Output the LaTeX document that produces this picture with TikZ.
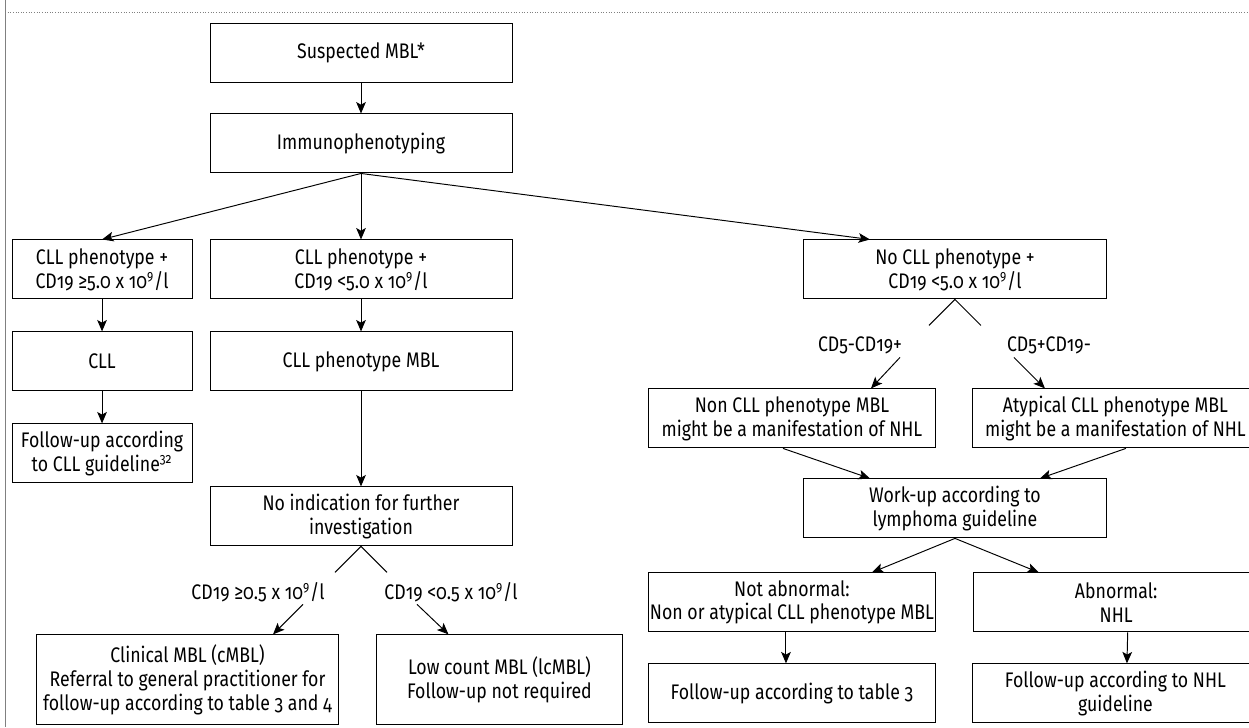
\documentclass[tikz,border=0pt]{standalone}
\usepackage{fontspec}
\setmainfont{Fira Sans}[Numbers=OldStyle, FakeStretch=0.84]
\usepackage{xcolor}
\usepackage{tikz}
\usetikzlibrary{positioning, arrows.meta}

\begin{document}
\begin{tikzpicture}[node distance = 0.64cm, >={Stealth[length=6.5pt, width=5.5pt, inset=1.5pt]},
        font=\fontsize{12}{13.6}\selectfont, line width=0.55pt]
            \tikzstyle{box} = [draw=black, rectangle, align=center, inner sep=1pt, minimum height=1.18cm, minimum width=6.04cm]
            \tikzstyle{narrow} = [box, minimum width=3.6cm]
            \tikzstyle{side} = [box, minimum width=5.72cm]
            \tikzstyle{cut} = [box, minimum width=5.7cm]
            \tikzstyle{lbl} = [inner sep=1pt, align=center]

            \useasboundingbox (0, 0) rectangle (24.98, -14.54);
            \clip (0, 0) rectangle (24.98, -14.54);
            \draw [gray, line width=0.5pt] (0.1, 0) -- (0.1, -14.54);
            \draw [gray, densely dotted, line width=0.5pt] (0.1, -0.24) -- (24.98, -0.24);

            \node [box] (B0) at (7.22, -1.05) {Suspected MBL*};
            \node [box, below = 0.62cm of B0] (B1) {Immunophenotyping};

            \node [box, below = 1.32cm of B1] (B3) {CLL phenotype +\\CD19 <5.0 x 10\textsuperscript{9}/l};
            \node [narrow, left = 0.34cm of B3] (B2) {CLL phenotype +\\CD19 ≥5.0 x 10\textsuperscript{9}/l};
            \node [box, right = 5.82cm of B3] (B4) {No CLL phenotype +\\CD19 <5.0 x 10\textsuperscript{9}/l};

            \node [narrow, below = of B2] (B5) {CLL};
            \node [box, below = of B3] (B6) {CLL phenotype MBL};
            \node [narrow, below = of B5] (B7) {Follow-up according\\to CLL guideline\textsuperscript{32}};

            \node [box, below = 1.9cm of B6] (B8) {No indication for further\\investigation};
            \node [box, minimum height=1.8cm, below = 1.76cm of B8, xshift=-3.47cm] (B9) {Clinical MBL (cMBL)\\Referral to general practitioner for\\follow-up according to table 3 and 4};
            \node [box, minimum height=1.8cm, minimum width=4.92cm, right = 0.74cm of B9] (B10) {Low count MBL (lcMBL)\\Follow-up not required};

            \node [side, below = 1.78cm of B4, xshift=-3.26cm] (B11) {Non CLL phenotype MBL\\might be a manifestation of NHL};
            \node [cut, right = 0.74cm of B11] (B12) {Atypical CLL phenotype MBL\\might be a manifestation of NHL};
            \node [box, below = 3.58cm of B4] (B13) {Work-up according to\\lymphoma guideline};
            \node [side, below = 2.48cm of B11] (B14) {Not abnormal:\\Non or atypical CLL phenotype MBL};
            \node [cut, right = 0.74cm of B14] (B15) {Abnormal:\\NHL};
            \node [side, below = 0.62cm of B14] (B16) {Follow-up according to table 3};
            \node [cut, right = 0.74cm of B16] (B17) {Follow-up according to NHL\\guideline};

            % branch labels
            \node [lbl] (L0) at ([xshift=-1.9cm, yshift=-0.92cm]B4.south) {CD5-CD19+};
            \node [lbl] (L1) at ([xshift=1.88cm, yshift=-0.92cm]B4.south) {CD5+CD19-};
            \node [lbl] (L2) at ([xshift=-2.06cm, yshift=-0.92cm]B8.south) {CD19 ≥0.5 x 10\textsuperscript{9}/l};
            \node [lbl] (L3) at ([xshift=1.8cm, yshift=-0.92cm]B8.south) {CD19 <0.5 x 10\textsuperscript{9}/l};

            \coordinate (C0) at ([shift={(-0.52, -0.52)}]B4.south);
            \coordinate (C1) at ([shift={(0.52, -0.52)}]B4.south);
            \coordinate (C2) at ([shift={(-0.52, -0.52)}]B8.south);
            \coordinate (C3) at ([shift={(0.52, -0.52)}]B8.south);
            \coordinate (C4) at ([shift={(0.8, -0.24)}]L0.center);
            \coordinate (C5) at ([shift={(-0.7, -0.24)}]L1.center);
            \coordinate (C6) at ([shift={(0.9, -0.24)}]L2.center);
            \coordinate (C7) at ([shift={(-0.68, -0.24)}]L3.center);

            \draw [->] (B0) to (B1);
            \draw [->] (B1.south) to (B2.north);
            \draw [->] (B1.south) to (B3.north);
            \draw [->] (B1.south) to ([xshift=-1.7cm]B4.north);
            \foreach \i/\j in {2/5, 3/6, 5/7, 6/8}
                \draw [->] (B\i) to (B\j);

            \foreach \i in {0, 1}
                \draw (B4.south) to (C\i);
            \foreach \i in {2, 3}
                \draw (B8.south) to (C\i);
            \draw [->] (C4) to ([xshift=1.58cm]B11.north);
            \draw [->] (C5) to ([xshift=-1.41cm]B12.north);
            \draw [->] (C6) to ([xshift=1.71cm]B9.north);
            \draw [->] (C7) to ([xshift=-1.02cm]B10.north);

            \draw [->] ([xshift=-0.18cm]B11.south) to ([xshift=-1.7cm]B13.north);
            \draw [->] ([xshift=0.21cm]B12.south) to ([xshift=1.7cm]B13.north);
            \draw [->] (B13.south) to ([xshift=1.6cm]B14.north);
            \draw [->] (B13.south) to ([xshift=-1.55cm]B15.north);
            \draw [->] ([xshift=-0.12cm]B14.south) to ([xshift=-0.12cm]B16.north);
            \draw [->] ([xshift=0.23cm]B15.south) to ([xshift=0.23cm]B17.north);
        \end{tikzpicture}
\end{document}
